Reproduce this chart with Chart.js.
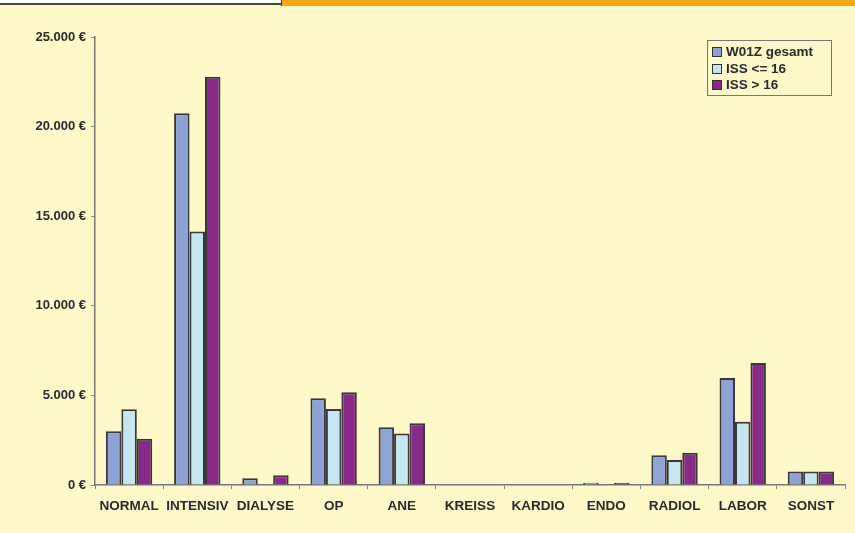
<!doctype html>
<html lang="de">
<head>
  <meta charset="UTF-8" />
  <script src="https://cdn.jsdelivr.net/npm/chart.js"></script>
  <style>
    html, body { margin: 0; padding: 0; background: #fff8c8; }
    #wrap { position: relative; width: 855px; height: 533px; overflow: hidden; }
    #topWhite { position: absolute; left: 0; top: 0; width: 281px; height: 3px; background: #fff; border-bottom: 2px solid #444; }
    #topOrange { position: absolute; left: 281px; top: 0; width: 574px; height: 6px; background: #f3a812; border-left: 1px solid #444; }
    #legend {
      position: absolute; left: 707px; top: 40px; width: 125px; height: 56px;
      border: 1px solid #777; font: bold 13.5px "Liberation Sans", Arial, sans-serif; color: #2a2a2a;
      padding: 3px 0 0 4px; box-sizing: border-box;
    }
    #legend div { height: 16.5px; line-height: 16.5px; white-space: nowrap; }
    #legend span.sw { display: inline-block; width: 8px; height: 8px; border: 1px solid #333; margin-right: 4px; vertical-align: -1px; }
  </style>
</head>
<body>
  <div id="wrap">
    <canvas id="myChart" width="855" height="533"></canvas>
    <div id="topWhite"></div>
    <div id="topOrange"></div>
    <div id="legend"></div>
  </div>

  <script>
    const categories = ["NORMAL", "INTENSIV", "DIALYSE", "OP", "ANE", "KREISS", "KARDIO", "ENDO", "RADIOL", "LABOR", "SONST"];
    const gesamt = [3000, 20750, 380, 4840, 3220, 0, 0, 130, 1660, 5970, 750];
    const issLow = [4230, 14150, 0, 4240, 2880, 0, 0, 0, 1400, 3530, 750];
    const issHigh = [2580, 22780, 540, 5170, 3440, 0, 0, 130, 1800, 6810, 750];
    const seriesNames = ["W01Z gesamt", "ISS <= 16", "ISS > 16"];
    const yTicks = [0, 5000, 10000, 15000, 20000, 25000];

    const colors = ["#8ea2d6", "#c6e6ef", "#8a2a88"];
    const ctx = document.getElementById("myChart");

    Chart.defaults.font.family = '"Liberation Sans", Arial, sans-serif';
    Chart.defaults.font.weight = "bold";
    Chart.defaults.color = "#2a2a2a";

    const chart = new Chart(ctx, {
      type: "bar",
      data: {
        labels: categories,
        datasets: [gesamt, issLow, issHigh].map((d, i) => ({
          label: seriesNames[i],
          data: d,
          backgroundColor: colors[i],
          borderColor: "#383838",
          borderWidth: 2,
          barPercentage: 1,
          categoryPercentage: 0.68,
        })),
      },
      options: {
        responsive: false,
        animation: false,
        layout: { padding: { left: 0, right: 10, top: 37, bottom: 0 } },
        plugins: { legend: { display: false }, tooltip: { enabled: false } },
        scales: {
          x: {
            grid: { drawOnChartArea: false, tickLength: 4, color: "#888", offset: true },
            border: { color: "#777", width: 1.5 },
            ticks: { font: { size: 13.5 }, padding: 9, maxRotation: 0, autoSkip: false },
            afterFit: (s) => { s.height = 48; },
          },
          y: {
            min: 0,
            max: 25000,
            afterBuildTicks: (s) => { s.ticks = yTicks.map((v) => ({ value: v })); },
            grid: { drawOnChartArea: false, tickLength: 4, color: "#888" },
            border: { color: "#777", width: 1.5 },
            ticks: {
              font: { size: 13 },
              padding: 5,
              callback: (v) => v.toLocaleString("de-DE") + " €",
            },
            afterFit: (s) => { s.width = 95; },
          },
        },
      },
    });

    const legend = document.getElementById("legend");
    legend.innerHTML = chart.data.datasets
      .map((d) => `<div><span class="sw" style="background:${d.backgroundColor}"></span>${d.label}</div>`)
      .join("");
  </script>
</body>
</html>
